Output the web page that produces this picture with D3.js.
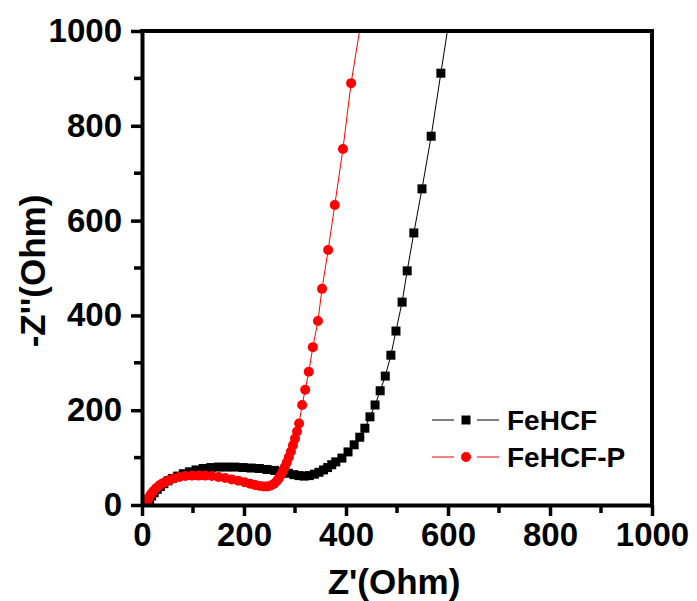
<!DOCTYPE html>
<html>
<head>
  <meta charset="utf-8">
  <script src="https://d3js.org/d3.v7.min.js"></script>
  <style>
    body { margin: 0; background: #fff; }
    text { font-family: "Liberation Sans", Arial, sans-serif; font-weight: bold; }
  </style>
</head>
<body>
  <div id="chart"></div>
  <script>
    // FeHCF (black squares)
    const fehcfX = [10, 12, 15, 19, 24, 30, 36, 43, 51, 60, 70, 81, 93, 106, 120, 135, 150, 166, 182, 198, 214, 230, 245, 260, 274, 287, 298, 308, 318, 328, 338, 347, 356, 364, 372, 380, 392, 404, 416, 427, 437, 447, 457, 467, 477, 488, 498, 510, 520, 533, 549, 567, 586, 606];
    const fehcfY = [0, 5, 12, 19, 26, 33, 39, 45, 51, 56, 61, 66, 70, 74, 77, 79, 80, 80, 80, 79, 78, 77, 75, 73, 70, 67, 64, 62, 61, 62, 65, 69, 74, 79, 85, 91, 99, 112, 127, 143, 162, 186, 211, 241, 272, 316, 367, 428, 494, 574, 667, 778, 911, 1050];
    // FeHCF-P (red circles)
    const fehcfpX = [8, 10, 13, 17, 22, 28, 35, 43, 52, 62, 73, 85, 98, 111, 124, 137, 150, 163, 176, 189, 201, 212, 222, 231, 239, 246, 253, 259, 264, 268, 272, 276, 280, 284, 288, 292, 296, 300, 304, 308, 314, 320, 327, 335, 345, 353, 365, 378, 394, 410, 428];
    const fehcfpY = [2, 8, 15, 22, 29, 36, 42, 47, 52, 56, 59, 61, 62, 62, 62, 61, 59, 57, 54, 51, 48, 45, 42, 40, 39, 39, 41, 45, 50, 56, 63, 71, 80, 90, 101, 113, 126, 140, 155, 172, 211, 243, 281, 333, 388, 456, 538, 633, 751, 890, 1010];
    const ticks = [0, 200, 400, 600, 800, 1000];
    const minorTicks = [100, 300, 500, 700, 900];

    const width = 697, height = 601;
    const svg = d3.select("#chart").append("svg").attr("width", width).attr("height", height);
    const x = d3.scaleLinear().domain([0, 1000]).range([142, 652]);
    const y = d3.scaleLinear().domain([0, 1000]).range([505, 31]);

    svg.append("clipPath").attr("id", "plot").append("rect")
      .attr("x", 142).attr("y", 31).attr("width", 510).attr("height", 474);

    const series = [
      { name: "FeHCF", xs: fehcfX, ys: fehcfY, color: "#000", shape: "square" },
      { name: "FeHCF-P", xs: fehcfpX, ys: fehcfpY, color: "#ff0000", shape: "circle" }
    ];

    const g = svg.append("g").attr("clip-path", "url(#plot)");
    const line = d3.line().x(d => x(d[0])).y(d => y(d[1]));

    function drawMarker(sel, s, cx, cy) {
      if (s.shape === "square") {
        sel.append("rect").attr("x", cx - 4.5).attr("y", cy - 4.5).attr("width", 9).attr("height", 9).attr("fill", s.color);
      } else {
        sel.append("circle").attr("cx", cx).attr("cy", cy).attr("r", 5).attr("fill", s.color);
      }
    }

    series.forEach(s => {
      const pts = s.xs.map((v, i) => [v, s.ys[i]]);
      g.append("path").datum(pts).attr("d", line)
        .attr("fill", "none").attr("stroke", s.color).attr("stroke-width", 1);
      pts.forEach(p => drawMarker(g, s, x(p[0]), y(p[1])));
    });

    // axes
    const fmt = d3.format("d");
    svg.append("g").attr("transform", "translate(0,505)")
      .call(d3.axisBottom(x).tickValues(ticks).tickSize(11).tickSizeOuter(0).tickPadding(7).tickFormat(fmt));
    svg.append("g").attr("transform", "translate(142,0)")
      .call(d3.axisLeft(y).tickValues(ticks).tickSize(11).tickSizeOuter(0).tickPadding(9).tickFormat(fmt));

    svg.selectAll(".tick line").attr("stroke", "#000").attr("stroke-width", 3.5);
    svg.selectAll(".domain").attr("stroke", "#000").attr("stroke-width", 4);
    svg.selectAll(".tick text").attr("font-size", 33).attr("font-family", "Liberation Sans, Arial, sans-serif").attr("font-weight", "bold").attr("fill", "#000");

    // minor ticks
    minorTicks.forEach(v => {
      svg.append("line").attr("x1", x(v)).attr("x2", x(v)).attr("y1", 505).attr("y2", 513)
        .attr("stroke", "#000").attr("stroke-width", 3.5);
      svg.append("line").attr("x1", 134).attr("x2", 142).attr("y1", y(v)).attr("y2", y(v))
        .attr("stroke", "#000").attr("stroke-width", 3.5);
    });

    // frame top/right
    svg.append("line").attr("x1", 140).attr("x2", 654).attr("y1", 31).attr("y2", 31).attr("stroke", "#000").attr("stroke-width", 4);
    svg.append("line").attr("x1", 652).attr("x2", 652).attr("y1", 29).attr("y2", 507).attr("stroke", "#000").attr("stroke-width", 4);

    // axis titles
    svg.append("text").attr("x", 394).attr("y", 594).attr("text-anchor", "middle")
      .attr("font-size", 35).text("Z'(Ohm)");
    svg.append("text").attr("transform", "translate(45,271) rotate(-90)").attr("text-anchor", "middle")
      .attr("font-size", 35).text("-Z''(Ohm)");

    // legend
    const leg = svg.append("g");
    series.forEach((s, i) => {
      const ly = 420 + i * 37;
      leg.append("line").attr("x1", 432).attr("x2", 454).attr("y1", ly).attr("y2", ly).attr("stroke", s.color).attr("stroke-width", 1);
      leg.append("line").attr("x1", 477).attr("x2", 499).attr("y1", ly).attr("y2", ly).attr("stroke", s.color).attr("stroke-width", 1);
      drawMarker(leg, s, 466, ly);
      leg.append("text").attr("x", 507).attr("y", ly + 10).attr("font-size", 28).text(s.name);
    });
  </script>
</body>
</html>
